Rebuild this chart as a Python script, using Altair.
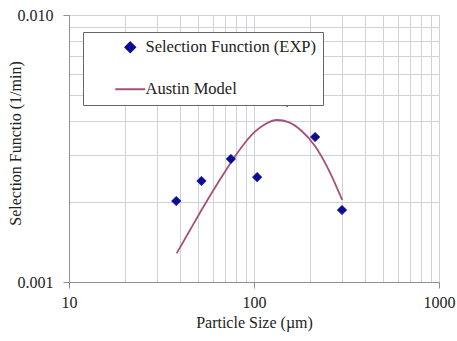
import altair as alt
import pandas as pd

# Experimental selection function
exp_size = [38, 52, 75, 104, 151, 214, 299]
exp_sf = [0.00201, 0.00239, 0.00289, 0.00247, 0.00472, 0.00349, 0.00186]

# Austin model curve
model_size = [38.2, 45.1, 54.3, 65.5, 76.0, 89.4, 101.2, 114.7, 133.2, 154.6, 181.1, 213.6, 252.1, 300]
model_sf = [0.001281, 0.001566, 0.001956, 0.002420, 0.002842, 0.003324, 0.003655, 0.003899, 0.004044,
            0.003962, 0.003677, 0.003231, 0.002649, 0.002028]

series_names = ["Selection Function (EXP)", "Austin Model"]
x_ticks = [10, 20, 30, 40, 50, 60, 70, 80, 90, 100, 200, 300, 400, 500, 600, 700, 800, 900, 1000]
y_ticks = [0.001, 0.002, 0.003, 0.004, 0.005, 0.006, 0.007, 0.008, 0.009, 0.01]

exp_df = pd.DataFrame({"size": exp_size, "sf": exp_sf, "series": series_names[0]})
model_df = pd.DataFrame({"size": model_size, "sf": model_sf, "series": series_names[1]})

FONT = "Liberation Serif"
BLUE = "#0c0c94"
MAROON = "#a4507a"
GRID = "#cfd3d8"
FRAME = "#8f8f8f"

x_major = "datum.value == 10 || datum.value == 100 || datum.value == 1000"
y_major = "datum.value == 0.001 || datum.value == 0.01"

x_enc = alt.X(
    "size:Q",
    scale=alt.Scale(type="log", domain=[10, 1000]),
    axis=alt.Axis(
        title="Particle Size (µm)",
        values=x_ticks,
        labelExpr=f"({x_major}) ? format(datum.value, 'd') : ''",
        grid=True,
        gridColor=GRID,
        tickOpacity={"condition": {"test": x_major, "value": 1}, "value": 0},
        tickSize=6,
        tickColor=FRAME,
        domainColor=FRAME,
        labelPadding=6,
        labelFontSize=16,
        titleFontSize=16,
        titleFontWeight="normal",
        titlePadding=4,
        labelColor="#222222",
        titleColor="#222222",
        labelFlush=False,
    ),
)
y_enc = alt.Y(
    "sf:Q",
    scale=alt.Scale(type="log", domain=[0.001, 0.01]),
    axis=alt.Axis(
        title="Selection Functio (1/min)",
        values=y_ticks,
        labelExpr=f"({y_major}) ? format(datum.value, '.3f') : ''",
        grid=True,
        gridColor=GRID,
        tickOpacity={"condition": {"test": y_major, "value": 1}, "value": 0},
        tickSize=6,
        tickColor=FRAME,
        domainColor=FRAME,
        labelPadding=10,
        labelFontSize=16,
        titleFontSize=16,
        titleFontWeight="normal",
        titleX=-54,
        titleY=128,
        titleBaseline="middle",
        titleAngle=270,
        labelColor="#222222",
        titleColor="#222222",
        labelFlush=False,
    ),
)

legend = alt.Legend(
    title=None,
    orient="none",
    legendX=14,
    legendY=17,
    fillColor="white",
    strokeColor="#666666",
    padding=7,
    symbolSize=100,
    symbolStrokeWidth=2,
    symbolOffset=32,
    labelOffset=7,
    labelLimit=400,
    rowPadding=24,
    labelFont=FONT,
    labelFontSize=16.5,
    labelColor="#222222",
)

diamond_path = "M0,-0.96L0.96,0L0,0.96L-0.96,0Z"
line_path = "M-3,0L3,0"

points = alt.Chart(exp_df).mark_point(filled=True, size=100, opacity=1, strokeWidth=0.5).encode(
    x=x_enc,
    y=y_enc,
    color=alt.Color("series:N", scale=alt.Scale(domain=series_names, range=[BLUE, MAROON]), legend=legend),
    shape=alt.Shape("series:N", scale=alt.Scale(domain=series_names, range=[diamond_path, line_path]), legend=legend),
    stroke=alt.Stroke("series:N", scale=alt.Scale(domain=series_names, range=[BLUE, MAROON]), legend=legend),
)

line = alt.Chart(model_df).mark_line(strokeWidth=1.8, interpolate="monotone", color=MAROON).encode(
    x=alt.X("size:Q"),
    y=alt.Y("sf:Q"),
)

chart = (
    alt.layer(line, points)
    .properties(
        width=370,
        height=267,
        autosize=alt.AutoSizeParams(type="none"),
        padding={"left": 69, "top": 15, "right": 18, "bottom": 59},
    )
    .configure(font=FONT, background="white")
    .configure_view(stroke=FRAME, strokeWidth=1)
)

chart.save("out.html", embed_options={"renderer": "svg", "actions": False})
